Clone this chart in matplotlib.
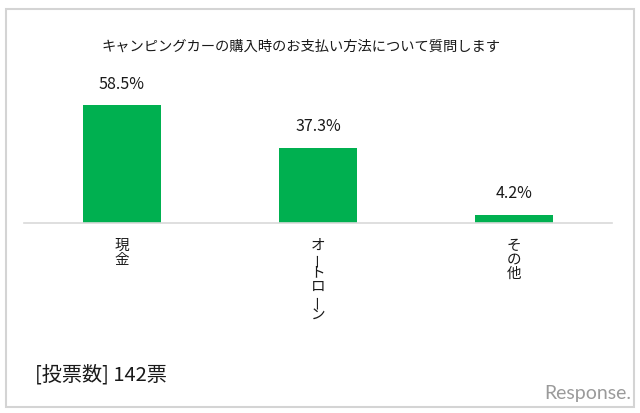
import matplotlib
matplotlib.use("Agg")
import matplotlib.pyplot as plt
import matplotlib.patches as patches

plt.rcParams['font.family'] = ['Noto Sans CJK JP', 'DejaVu Sans']

categories = ["現金", "オートローン", "その他"]
values = [58.5, 37.3, 4.2]
value_labels = ["58.5%", "37.3%", "4.2%"]
title = "キャンピングカーの購入時のお支払い方法について質問します"
note = "[投票数] 142票"

green = "#00B050"

fig = plt.figure(figsize=(6.4, 4.13), dpi=100)
ax = fig.add_axes([0.0375, 0.46, 0.9187, 0.293])

x = list(range(len(categories)))
ax.bar(x, values, width=0.4, color=green, zorder=2)
ax.set_xlim(-0.5, 2.5)
ax.set_ylim(0, 60)

for s in ["top", "left", "right"]:
    ax.spines[s].set_visible(False)
ax.spines["bottom"].set_color("#d9d9d9")
ax.spines["bottom"].set_linewidth(1.2)
ax.set_yticks([])
ax.set_xticks([])

# value labels above bars
for i, v in enumerate(values):
    ax.annotate(value_labels[i], xy=(i, v), xytext=(0, 9), textcoords="offset points",
                ha="center", va="bottom", fontsize=11.5, color="#1a1a1a")

# category labels written vertically, one character per line
for i, cat in enumerate(categories):
    for k, ch in enumerate(cat):
        rot = 90 if ch == "ー" else 0
        ax.annotate(ch, xy=(i, 0), xycoords=("data", "axes fraction"),
                    xytext=(0, -(23 + k * 13.8) * 0.72), textcoords="offset points",
                    ha="center", va="center", fontsize=10.5, color="#1a1a1a",
                    rotation=rot, rotation_mode="anchor")

fig.text(0.47, 1 - 47 / 413, title, ha="center", va="center", fontsize=10.3, color="#1a1a1a")
fig.text(35 / 640, 1 - 375 / 413, note, ha="left", va="center", fontsize=14.5, color="#1a1a1a")
fig.text(631 / 640, 1 - 393 / 413, "Response.", ha="right", va="center", fontsize=14,
         color="#9a9a9a", family=["Lato", "DejaVu Sans"])

# outer frame
frame = patches.Rectangle((6 / 640, 1 - 407 / 413), 628 / 640, 398 / 413,
                          transform=fig.transFigure, fill=False,
                          edgecolor="#d4d4d4", linewidth=1.5)
fig.patches.append(frame)

fig.savefig("out.png", dpi=100)
